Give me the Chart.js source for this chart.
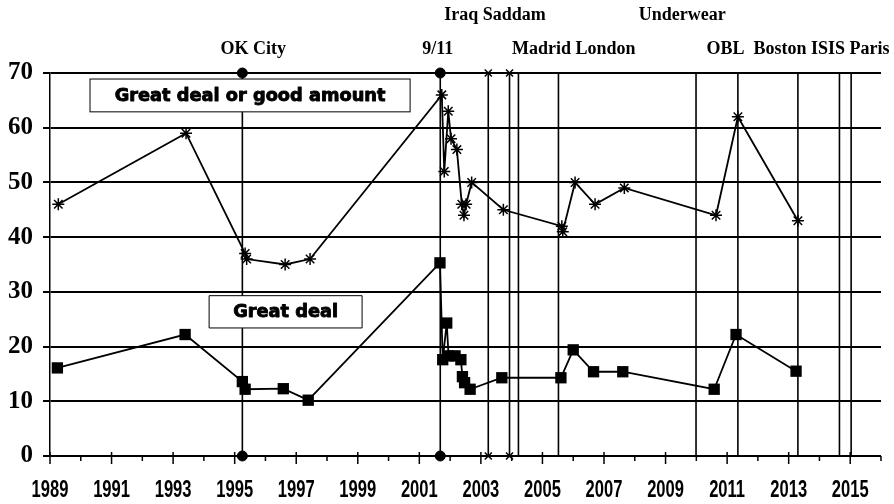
<!DOCTYPE html>
<html>
<head>
<meta charset="utf-8">
<script src="https://cdn.jsdelivr.net/npm/chart.js@4.4.1/dist/chart.umd.min.js"></script>
<style>
  html, body { margin: 0; padding: 0; background: #fff; }
  #wrap { width: 894px; height: 504px; }
</style>
</head>
<body>
<div id="wrap"><canvas id="worryChart"></canvas></div>
<script>
// Series names
const seriesNames = ["Great deal or good amount", "Great deal"];

// "Great deal or good amount" (asterisks)
const goodAmountYears = [1989.27, 1993.42, 1995.34, 1995.39, 1996.64, 1997.45, 2001.73, 2001.81, 2001.94, 2002.03,
    2002.22, 2002.38, 2002.45, 2002.52, 2002.70, 2003.73, 2005.63, 2005.66, 2006.06, 2006.71, 2007.66, 2010.64,
    2011.35, 2013.30];
const goodAmountValues = [46, 59, 37, 36, 35, 36, 66, 52, 63, 58,
    56, 46, 44, 46, 50, 45, 42, 41, 50, 46, 49, 44,
    62, 43];

// "Great deal" (squares)
const greatDealYears = [1989.24, 1993.39, 1995.25, 1995.34, 1996.58, 1997.39, 2001.67, 2001.76, 2001.89, 2001.95,
    2002.16, 2002.35, 2002.40, 2002.47, 2002.65, 2003.68, 2005.60, 2006.00, 2006.66, 2007.61, 2010.58, 2011.29,
    2013.24];
const greatDealValues = [16.1, 22.2, 13.6, 12.2, 12.3, 10.2, 35.3, 17.6, 24.3, 18.3,
    18.3, 17.6, 14.5, 13.4, 12.2, 14.3, 14.3, 19.4, 15.4, 15.4, 12.2, 22.2,
    15.5];

// Event lines
const eventYears = [1995.25, 2001.68, 2003.24, 2003.93, 2004.22, 2005.52, 2009.99, 2011.35, 2013.30, 2014.65, 2015.03];
const eventMarkers = ["circle", "circle", "crossRot", "crossRot", null, null, null, null, null, null, null];

// Event labels above the chart
const eventLabels = ["OK City", "9/11", "Iraq Saddam", "Underwear", "Madrid London", "OBL  Boston ISIS Paris"];
const eventLabelYears = [1995.6, 2001.6, 2003.46, 2009.54, 2006.02, 2013.3];
const eventLabelRows = [2, 2, 1, 1, 2, 2];

const xMin = 1989, xMax = 2016;
const yMin = 0, yMax = 70;

const toPoints = (xs, ys) => xs.map((v, i) => ({ x: v, y: ys[i] }));

const eventDatasets = eventYears.map((yr, i) => ({
    label: "event" + i,
    data: [{ x: yr, y: yMin }, { x: yr, y: yMax }],
    showLine: true,
    borderColor: "#000",
    borderWidth: 1.6,
    pointStyle: eventMarkers[i] || "circle",
    pointRadius: eventMarkers[i] ? 5 : 0,
    pointBackgroundColor: "#000",
    pointBorderColor: "#000",
    pointBorderWidth: eventMarkers[i] === "crossRot" ? 1.5 : 1,
    clip: false,
    order: 3
}));

// Ticks, tick labels, top labels and series name boxes
const overlay = {
    id: "overlay",
    afterDraw(chart) {
        const { ctx, chartArea, scales: { x, y } } = chart;
        ctx.save();

        // x axis ticks: long at odd years, short at even
        ctx.strokeStyle = "#000";
        ctx.lineWidth = 1.5;
        ctx.fillStyle = "#000";
        ctx.textAlign = "center";
        ctx.textBaseline = "middle";
        ctx.font = "bold 18px 'Liberation Sans', Arial, sans-serif";
        for (let yr = xMin; yr <= xMax; yr++) {
            const px = x.getPixelForValue(yr);
            const major = (yr - xMin) % 2 === 0;
            ctx.beginPath();
            ctx.moveTo(px, chartArea.bottom - (major ? 4 : 0));
            ctx.lineTo(px, chartArea.bottom + (major ? 8 : 5));
            ctx.stroke();
            if (major && yr < xMax) {
                // tall narrow year labels
                ctx.save();
                ctx.translate(px, chartArea.bottom + 35);
                ctx.scale(0.92, 1.3);
                ctx.fillText(String(yr), 0, 0);
                ctx.restore();
            }
        }

        // event names
        ctx.font = "bold 18px 'Liberation Serif', 'Times New Roman', serif";
        eventLabels.forEach((t, i) => {
            const py = eventLabelRows[i] === 1 ? chartArea.top - 58 : chartArea.top - 24;
            ctx.fillText(t, x.getPixelForValue(eventLabelYears[i]), py);
        });

        // series name boxes
        const boxes = [
            { text: seriesNames[0], x0: 1990.3, x1: 2000.7, y0: 68.9, y1: 62.9, w: 271 },
            { text: seriesNames[1], x0: 1994.17, x1: 1999.14, y0: 29.3, y1: 23.4, w: 105 }
        ];
        boxes.forEach(b => {
            const l = x.getPixelForValue(b.x0), r = x.getPixelForValue(b.x1);
            const t = y.getPixelForValue(b.y0), btm = y.getPixelForValue(b.y1);
            ctx.fillStyle = "#fff";
            ctx.fillRect(l, t, r - l, btm - t);
            ctx.strokeStyle = "#000";
            ctx.lineWidth = 1;
            ctx.strokeRect(l, t, r - l, btm - t);
            ctx.font = "bold 16px 'DejaVu Sans', sans-serif";
            const size = 16 * b.w / ctx.measureText(b.text).width;
            ctx.font = "bold " + size.toFixed(2) + "px 'DejaVu Sans', sans-serif";
            ctx.fillStyle = "#000";
            ctx.lineWidth = 0.9;
            ctx.lineJoin = "round";
            ctx.fillText(b.text, (l + r) / 2, (t + btm) / 2 + 1);
            ctx.strokeText(b.text, (l + r) / 2, (t + btm) / 2 + 1);
        });

        ctx.restore();
    }
};

const ctx = document.getElementById("worryChart").getContext("2d");
const worryChart = new Chart(ctx, {
    type: "scatter",
    data: {
        datasets: [
            {
                label: seriesNames[0],
                data: toPoints(goodAmountYears, goodAmountValues),
                showLine: true,
                borderColor: "#000",
                borderWidth: 1.8,
                pointStyle: "star",
                pointRadius: 6,
                pointBorderColor: "#000",
                pointBorderWidth: 1.5,
                clip: false,
                order: 1
            },
            {
                label: seriesNames[1],
                data: toPoints(greatDealYears, greatDealValues),
                showLine: true,
                borderColor: "#000",
                borderWidth: 1.8,
                pointStyle: "rect",
                pointRadius: 8,
                pointBackgroundColor: "#000",
                pointBorderColor: "#000",
                pointBorderWidth: 0,
                clip: false,
                order: 2
            },
            ...eventDatasets
        ]
    },
    options: {
        responsive: true,
        maintainAspectRatio: false,
        animation: false,
        layout: { padding: { top: 73, right: 13, left: 0, bottom: 0 } },
        plugins: {
            legend: { display: false },
            tooltip: { enabled: false }
        },
        scales: {
            x: {
                type: "linear",
                min: xMin,
                max: xMax,
                afterFit: (s) => { s.height = 48; },
                grid: { display: false },
                border: { display: false },
                ticks: { display: false, stepSize: 1 }
            },
            y: {
                min: yMin,
                max: yMax,
                afterFit: (s) => { s.width = 50; },
                grid: { color: "#000", lineWidth: 2, tickLength: 7 },
                border: { display: true, color: "#000", width: 1.5 },
                ticks: {
                    stepSize: 10,
                    padding: 10,
                    color: "#000",
                    font: { family: "'Liberation Serif', 'Times New Roman', serif", size: 25, weight: "bold" }
                }
            }
        }
    },
    plugins: [overlay]
});
</script>
</body>
</html>
